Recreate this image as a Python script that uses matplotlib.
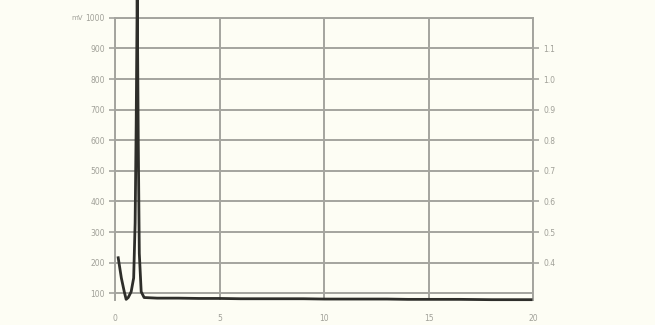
import matplotlib
matplotlib.use("Agg")
import matplotlib.pyplot as plt

# Signal trace (time on x, response on y)
time_vals = [0.14, 0.29, 0.43, 0.52, 0.62, 0.76, 0.88, 0.95, 1.00, 1.05, 1.10, 1.15,
             1.24, 1.38, 2.0, 3.0, 4.0, 5.0, 6.0, 7.5, 9.0, 10.0, 11.5, 13.0,
             14.0, 15.0, 16.5, 18.0, 19.0, 19.9]
signal_vals = [216, 150, 105, 80, 86, 105, 150, 330, 650, 1080, 600, 230,
               105, 86, 84, 84, 83, 83, 82, 82, 82, 81, 81, 81,
               80, 80, 80, 79, 79, 79]

# Axis ticks and labels
x_ticks = [0, 5, 10, 15, 20]
x_labels = ["0", "5", "10", "15", "20"]
y_ticks = [100, 200, 300, 400, 500, 600, 700, 800, 900, 1000]
y_labels = ["100", "200", "300", "400", "500", "600", "700", "800", "900", "1000"]
right_ticks = [200, 300, 400, 500, 600, 700, 800, 900]
right_labels = ["0.4", "0.5", "0.6", "0.7", "0.8", "0.9", "1.0", "1.1"]

bg = "#fdfdf4"
grid_c = "#a4a49e"
text_c = "#a0a098"

fig = plt.figure(figsize=(6.55, 3.25), dpi=100, facecolor=bg)
ax = fig.add_axes([0.176, 0.077, 0.638, 0.868], facecolor=bg)

ax.set_xlim(0, 20)
ax.set_ylim(78, 1000)

ax.set_xticks(x_ticks)
ax.set_xticklabels(x_labels)
ax.set_yticks(y_ticks)
ax.set_yticklabels(y_labels)

ax.grid(True, color=grid_c, linewidth=1.4)
for s in ax.spines.values():
    s.set_color(grid_c)
    s.set_linewidth(1.4)
ax.spines["bottom"].set_visible(False)

ax.tick_params(axis="both", colors=grid_c, labelcolor=text_c, labelsize=5.5,
               length=4, width=1.2, direction="out")
ax.tick_params(axis="x", length=0, pad=10)

ax2 = ax.twinx()
ax2.set_ylim(ax.get_ylim())
ax2.set_yticks(right_ticks)
ax2.set_yticklabels(right_labels)
ax2.tick_params(axis="y", colors=grid_c, labelcolor=text_c, labelsize=5.5,
                length=4, width=1.2, direction="out")
for s in ax2.spines.values():
    s.set_visible(False)

ax.plot(time_vals, signal_vals, color="#2e2e2a", linewidth=2.0,
        solid_joinstyle="round", clip_on=False, zorder=5)

fig.text(0.118, 0.945, "mV", fontsize=5, color=text_c, ha="center", va="center")

fig.savefig("out.png", dpi=100, facecolor=bg)
